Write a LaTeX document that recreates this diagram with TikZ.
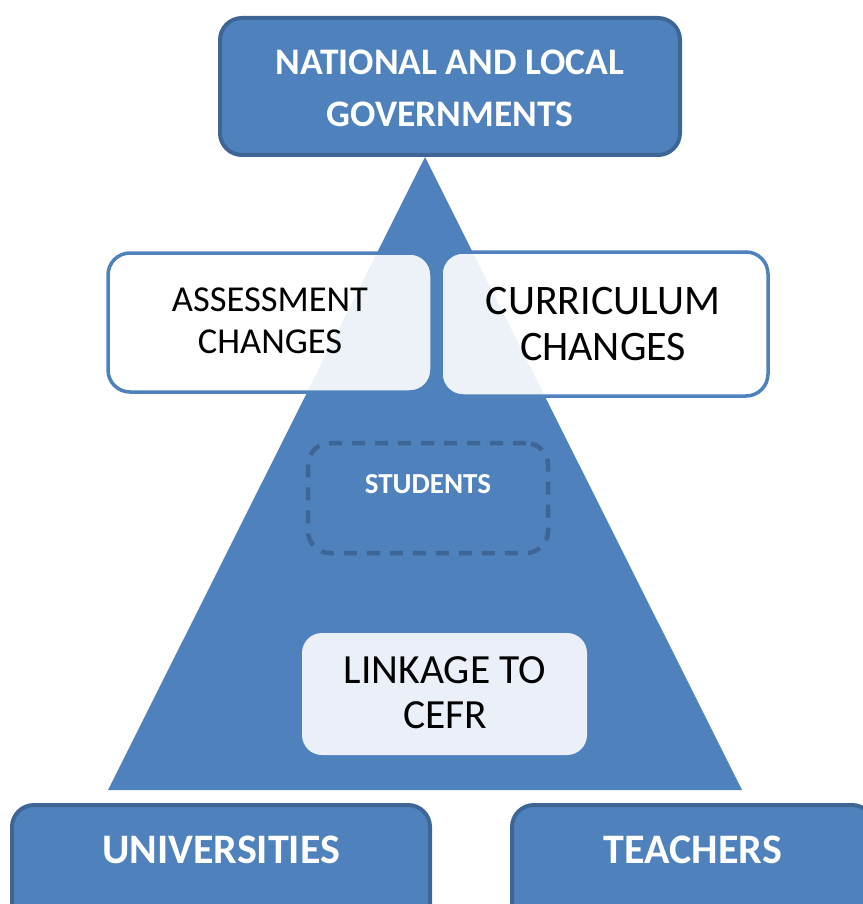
\documentclass[tikz,border=0pt]{standalone}
\usepackage{fontspec}
\setmainfont{Carlito}
\definecolor{mainblue}{HTML}{4F81BD}
\definecolor{darkblue}{HTML}{3D6595}
\definecolor{paleblue}{HTML}{EBF0F8}
\begin{document}
\begin{tikzpicture}[x=1pt,y=-1pt,
  govbox/.style={draw=darkblue, line width=4pt, fill=mainblue, rounded corners=22pt, inner sep=0pt},
  changebox/.style={draw=mainblue, line width=3.5pt, fill=white, fill opacity=0.9, text opacity=1, rounded corners=22pt, inner sep=0pt},
  studbox/.style={draw=darkblue, line width=4.5pt, dash pattern=on 13pt off 10pt, rounded corners=22pt, inner sep=0pt},
  linkbox/.style={fill=paleblue, rounded corners=20pt, inner sep=0pt},
  whitetext/.style={text=white, font=\bfseries, align=center, inner sep=0pt},
  blacktext/.style={text=black, align=center, inner sep=0pt}]
\useasboundingbox (0,0) rectangle (862,904);
% pyramid
\coordinate (apex) at (425,157);
\coordinate (bl) at (108,790);
\coordinate (br) at (742,790);
\fill[mainblue] (apex) -- (bl) -- (br) -- cycle;
% top box
\node[govbox, minimum width=460pt, minimum height=137pt] (gov) at (450,86.5) {};
\node[whitetext, font=\fontsize{37.5}{52}\selectfont\bfseries] (govt) at (450,88) {NATIONAL AND LOCAL\\GOVERNMENTS};
% change boxes
\node[changebox, minimum width=324pt, minimum height=139pt] (assess) at (270,322.5) {};
\node[blacktext, font=\fontsize{36.5}{42}\selectfont] (assesst) at (270,321) {ASSESSMENT\\CHANGES};
\node[changebox, minimum width=327pt, minimum height=144pt] (curric) at (604.5,324) {};
\node[blacktext, font=\fontsize{42}{46}\selectfont] (currict) at (603,324) {CURRICULUM\\CHANGES};
% students
\node[studbox, minimum width=240pt, minimum height=110pt] (stud) at (428,498) {};
\node[whitetext, font=\fontsize{29}{32}\selectfont\bfseries] (studt) at (428,484) {STUDENTS};
% linkage
\node[linkbox, minimum width=285pt, minimum height=122pt] (link) at (444.5,694) {};
\node[blacktext, font=\fontsize{41.5}{45}\selectfont] (linkt) at (445,693) {LINKAGE TO\\CEFR};
% bottom boxes
\node[govbox, minimum width=418pt, minimum height=140pt] (univ) at (221,875) {};
\node[whitetext, font=\fontsize{42}{46}\selectfont\bfseries] (univt) at (221,850) {UNIVERSITIES};
\node[govbox, minimum width=362pt, minimum height=140pt] (teach) at (693,875) {};
\node[whitetext, font=\fontsize{42}{46}\selectfont\bfseries] (teacht) at (693,850) {TEACHERS};
\end{tikzpicture}
\end{document}
